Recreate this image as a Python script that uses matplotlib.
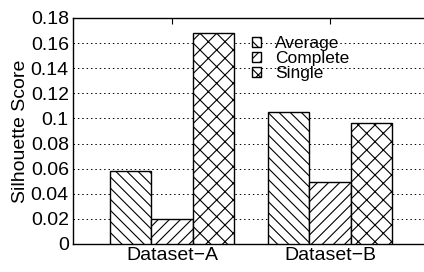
import numpy as np
import matplotlib.pyplot as plt

plt.rcParams['font.family'] = ['Liberation Sans', 'DejaVu Sans']
plt.rcParams['hatch.linewidth'] = 0.8

datasets = ['Dataset\u2212A', 'Dataset\u2212B']
methods = ['Average', 'Complete', 'Single']
scores = {
    'Average': [0.058, 0.105],
    'Complete': [0.020, 0.049],
    'Single': [0.168, 0.096],
}
hatches = ['\\\\\\', '///', 'xx']

fig = plt.figure(figsize=(4.24, 2.72), dpi=100)
ax = fig.add_axes([0.172, 0.103, 0.828, 0.831])

x = np.arange(len(datasets))
w = 0.26
for i, m in enumerate(methods):
    ax.bar(x + (i - 1) * w, scores[m], w, color='white', edgecolor='black',
           linewidth=1.0, hatch=hatches[i], label=m, zorder=3)

ax.set_xlim(-0.627, 1.595)
ax.set_ylim(0, 0.18)
ax.set_yticks(np.arange(0, 0.181, 0.02))
ax.set_yticklabels(['0', '0.02', '0.04', '0.06', '0.08', '0.1', '0.12',
                    '0.14', '0.16', '0.18'])
ax.set_xticks(x)
ax.set_xticklabels(datasets)
ax.tick_params(axis='both', direction='in', labelsize=14, length=4, width=0.8)
ax.tick_params(axis='x', top=True, pad=2)
ax.tick_params(axis='y', pad=3, length=0)
ax.set_ylabel('Silhouette Score', fontsize=14, labelpad=1)
ax.yaxis.grid(True, linestyle=(0, (1.5, 3)), color='black', linewidth=0.7, zorder=0)
ax.spines['right'].set_visible(False)
for s in ['left', 'top', 'bottom']:
    ax.spines[s].set_linewidth(1.0)

ax.legend(loc='upper left', bbox_to_anchor=(0.49, 0.95), frameon=False,
          fontsize=12.5, handlelength=0.55, handleheight=0.55, handletextpad=0.8,
          labelspacing=0.0, borderaxespad=0)

fig.savefig('out.png', dpi=100)
